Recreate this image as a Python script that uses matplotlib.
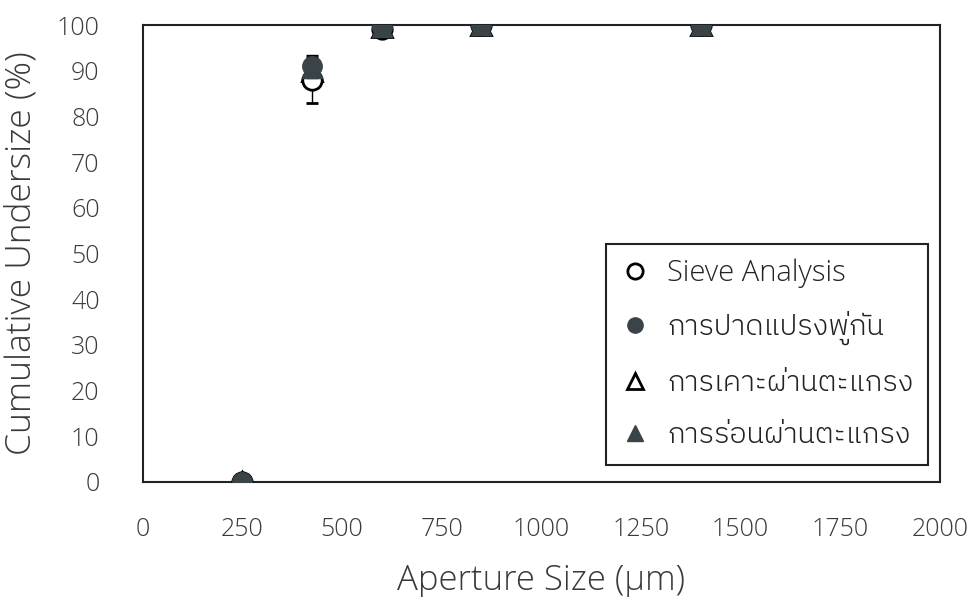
import matplotlib
matplotlib.use("Agg")
import matplotlib.pyplot as plt
from matplotlib import font_manager
from matplotlib.lines import Line2D

# sieve sizes (um) and cumulative undersize (%) for each method
aperture = [250, 425, 600, 850, 1400]
sieve = [0, 88, 99.2, 100, 100]
sieve_err = [0, 5, 0, 0, 0]
brush = [0, 91, 99.5, 100, 100]
brush_err = [0, 2.5, 0, 0, 0]
tap = [0, 90, 99.5, 100, 100]
vib = [0, 90.5, 99.5, 100, 100]

labels = ["Sieve Analysis", "การปาดแปรงพู่กัน", "การเคาะผ่านตะแกรง", "การร่อนผ่านตะแกรง"]


def pick_font(names):
    for n in names:
        try:
            font_manager.findfont(n, fallback_to_default=False)
            return n
        except Exception:
            pass
    return "DejaVu Sans"


thai = pick_font(["IBM Plex Sans Thai", "Prompt", "Noto Sans Thai", "Anuphan"])
latin = pick_font(["Open Sans", "Lato", "Noto Sans"])
plt.rcParams["font.family"] = [latin, thai, "DejaVu Sans"]
plt.rcParams["font.weight"] = 300
plt.rcParams["axes.labelweight"] = 300

dark = "#3a4347"
txt = "#3a3a3a"
ms = 14

fig = plt.figure(figsize=(9.77, 5.97), dpi=100)
ax = fig.add_axes([0.146, 0.193, 0.816, 0.765])

ax.errorbar(aperture, sieve, yerr=sieve_err, fmt="o", ms=ms, mfc="white", mec="black",
            mew=2, ecolor="black", elinewidth=1, capsize=4, zorder=3)
ax.errorbar(aperture, brush, yerr=brush_err, fmt="o", ms=ms, mfc=dark, mec=dark,
            ecolor="black", elinewidth=1, capsize=4, zorder=4)
ax.plot(aperture, tap, "^", ms=ms, mfc="white", mec="black", mew=2, zorder=2)
ax.plot(aperture, vib, "^", ms=ms, mfc=dark, mec=dark, zorder=5)

ax.set_xlim(0, 2000)
ax.set_ylim(0, 100)
ax.set_xticks(range(0, 2001, 250))
ax.set_yticks(range(0, 101, 10))
ax.tick_params(length=0, labelsize=18, colors=txt)
ax.tick_params(axis="y", pad=31)
ax.tick_params(axis="x", pad=25)
for s in ax.spines.values():
    s.set_linewidth(1.5)
    s.set_color("#222222")

ax.set_xlabel("Aperture Size (µm)", fontsize=25, color=txt, labelpad=16)
ax.set_ylabel("Cumulative Undersize (%)", fontsize=25.5, color=txt, labelpad=13)

# legend entries without the error bar glyphs
handles = [
    Line2D([], [], ls="none", marker="o", ms=11, mfc="white", mec="black", mew=2),
    Line2D([], [], ls="none", marker="o", ms=11, mfc=dark, mec=dark),
    Line2D([], [], ls="none", marker="^", ms=11, mfc="white", mec="black", mew=2),
    Line2D([], [], ls="none", marker="^", ms=11, mfc=dark, mec=dark),
]
leg = ax.legend(handles, labels, loc="lower right", bbox_to_anchor=(0.985, 0.037),
                borderaxespad=0, fontsize=21, handlelength=1.0, handletextpad=0.6,
                labelspacing=0.79, borderpad=0.5, fancybox=False, framealpha=1,
                edgecolor="#222222")
leg.get_frame().set_linewidth(1.5)
for t in leg.get_texts():
    t.set_color("#222222")
    t.set_fontweight(300)

fig.savefig("out.png")
